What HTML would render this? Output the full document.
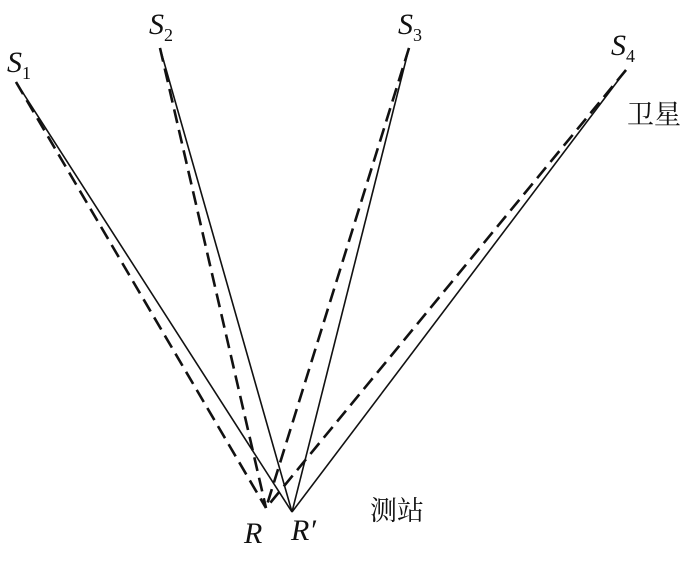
<!DOCTYPE html>
<html><head><meta charset="utf-8"><style>body{margin:0;background:#fff}</style></head><body>
<svg width="700" height="560" xmlns="http://www.w3.org/2000/svg">
<g stroke="#111" fill="none">
<g stroke-width="1.6">
<line x1="16" y1="82" x2="292" y2="512"/>
<line x1="160" y1="48" x2="292" y2="512"/>
<line x1="409" y1="48" x2="292" y2="512"/>
<line x1="626" y1="70" x2="292" y2="512"/>
</g>
<g stroke-width="2.6" stroke-dasharray="14,7">
<line x1="16" y1="82" x2="266" y2="508"/>
<line x1="160" y1="48" x2="266" y2="508"/>
<line x1="409" y1="48" x2="266" y2="508"/>
<line x1="626" y1="70" x2="266" y2="508"/>
</g>
</g>
<g font-family="Liberation Serif, serif" font-style="italic" font-size="30" fill="#111">
<text x="7" y="72">S<tspan font-size="18" font-style="normal" dy="7">1</tspan></text>
<text x="149" y="34">S<tspan font-size="18" font-style="normal" dy="7">2</tspan></text>
<text x="398" y="34">S<tspan font-size="18" font-style="normal" dy="7">3</tspan></text>
<text x="611" y="55">S<tspan font-size="18" font-style="normal" dy="7">4</tspan></text>
<text x="244" y="543">R</text>
<text x="291" y="540">R′</text>
</g>
<g font-family="Liberation Serif, 'Noto Serif CJK SC', serif" font-size="27" fill="#111">
<text x="627" y="124">卫星</text>
<text x="370" y="520">测站</text>
</g>
</svg>
</body></html>
